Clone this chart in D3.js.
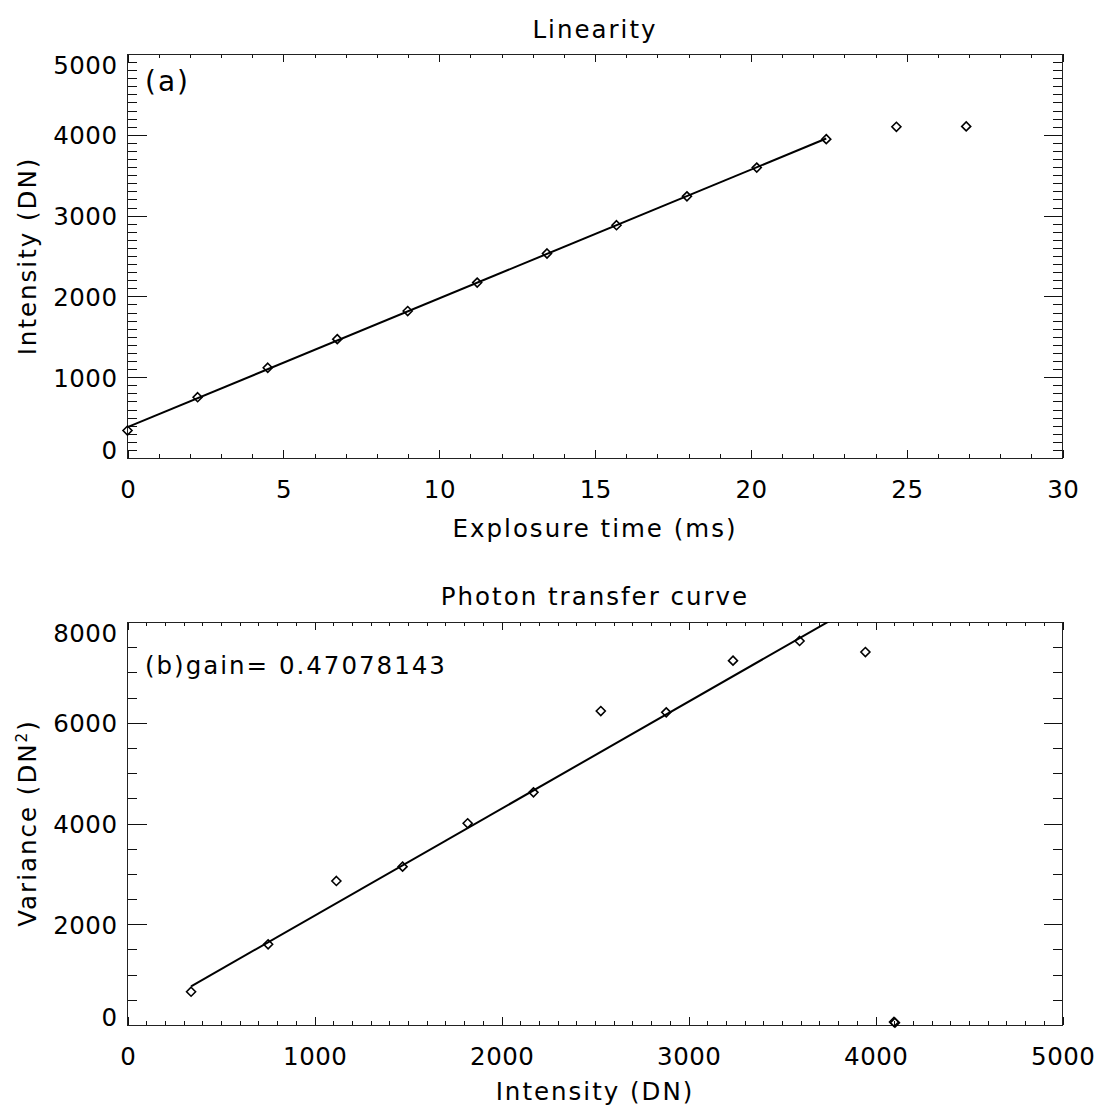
<!DOCTYPE html>
<html>
<head>
<meta charset="utf-8">
<script src="https://cdn.jsdelivr.net/npm/d3@7"></script>
<style>
  html, body { margin: 0; padding: 0; background: #fff; }
  svg text { font-family: "DejaVu Sans", sans-serif; fill: #000; }
</style>
</head>
<body>
<svg id="chart" width="1096" height="1107"></svg>
<script>
// Exposure series: exposure time (ms), mean intensity (DN), variance (DN^2)
const exposureMs  = [0, 2.25, 4.50, 6.73, 8.99, 11.22, 13.46, 15.69, 17.95, 20.19, 22.42, 24.67, 26.91];
const intensityDN = [340, 752, 1117, 1471, 1819, 2171, 2531, 2881, 3238, 3594, 3946, 4099, 4104];
const varianceDN2 = [661, 1602, 2859, 3143, 4004, 4619, 6233, 6207, 7232, 7623, 7404, 60, 45];

// Number of unsaturated points used in the fits
const fitCount = 11;
// Photon transfer fit: variance = ptcOffset + intensity / gain
const gain = 0.47078143;
const ptcOffset = 45;

// Axis ticks
const linXTicks = [0, 5, 10, 15, 20, 25, 30];
const linYTicks = [0, 1000, 2000, 3000, 4000, 5000];
const ptcXTicks = [0, 1000, 2000, 3000, 4000, 5000];
const ptcYTicks = [0, 2000, 4000, 6000, 8000];

const svg = d3.select("#chart");
const FONT = 24.5, LS = 2, TICK_LS = 0.5;

const panelLeft = 127.5, panelRight = 1062.5;

function diamondPath(s) {
  return `M0,${-s}L${s},0L0,${s}L${-s},0Z`;
}

function drawPanel(cfg) {
  const { top, bottom, xDomain, yDomain, xTicks, yTicks, xMinorStep, yMinorStep } = cfg;
  const x = d3.scaleLinear().domain(xDomain).range([panelLeft, panelRight]);
  const y = d3.scaleLinear().domain(yDomain).range([bottom, top]);
  const g = svg.append("g");
  const plotH = bottom - top, plotW = panelRight - panelLeft;
  const xMaj = Math.round(plotH * 0.02), xMin = xMaj / 2;
  const yMaj = Math.round(plotW * 0.02), yMin = yMaj / 2;

  const xMinor = d3.range(xDomain[0], xDomain[1] + 1e-9, xMinorStep).filter(v => !xTicks.includes(+v.toFixed(6)));
  const yMinor = d3.range(yDomain[0], yDomain[1] + 1e-9, yMinorStep).filter(v => !yTicks.includes(+v.toFixed(6)));

  const tickStyle = sel => {
    sel.select(".domain").remove();
    sel.selectAll(".tick line").attr("stroke", "#111").attr("stroke-width", 1).attr("shape-rendering", "crispEdges");
  };

  // bottom axis: major ticks with labels, then minor ticks
  const bx = g.append("g").attr("transform", `translate(0,${bottom})`)
    .call(d3.axisBottom(x).tickValues(xTicks).tickSize(-xMaj).tickPadding(0).tickFormat(d3.format("d")));
  tickStyle(bx);
  bx.selectAll(".tick text").attr("font-size", FONT).attr("letter-spacing", TICK_LS)
    .attr("y", 40).attr("dy", 0).attr("dx", TICK_LS / 2);
  g.append("g").attr("transform", `translate(0,${bottom})`)
    .call(d3.axisBottom(x).tickValues(xMinor).tickSize(-xMin).tickFormat("")).call(tickStyle);
  // top axis
  g.append("g").attr("transform", `translate(0,${top})`)
    .call(d3.axisTop(x).tickValues(xTicks).tickSize(-xMaj).tickFormat("")).call(tickStyle);
  g.append("g").attr("transform", `translate(0,${top})`)
    .call(d3.axisTop(x).tickValues(xMinor).tickSize(-xMin).tickFormat("")).call(tickStyle);

  // left axis; end labels are kept inside the axis span
  const ly = g.append("g").attr("transform", `translate(${panelLeft},0)`)
    .call(d3.axisLeft(y).tickValues(yTicks).tickSize(-yMaj).tickPadding(10).tickFormat(d3.format("d")));
  tickStyle(ly);
  ly.selectAll(".tick text").attr("font-size", FONT).attr("letter-spacing", TICK_LS)
    .attr("dy", "0.36em")
    .attr("y", d => {
      const py = y(d);
      const cy = Math.max(top + 11, Math.min(bottom - 8, py));
      return cy - py;
    });
  g.append("g").attr("transform", `translate(${panelLeft},0)`)
    .call(d3.axisLeft(y).tickValues(yMinor).tickSize(-yMin).tickFormat("")).call(tickStyle);
  // right axis
  g.append("g").attr("transform", `translate(${panelRight},0)`)
    .call(d3.axisRight(y).tickValues(yTicks).tickSize(-yMaj).tickFormat("")).call(tickStyle);
  g.append("g").attr("transform", `translate(${panelRight},0)`)
    .call(d3.axisRight(y).tickValues(yMinor).tickSize(-yMin).tickFormat("")).call(tickStyle);

  // frame
  g.append("rect").attr("x", panelLeft).attr("y", top)
    .attr("width", plotW).attr("height", plotH)
    .attr("fill", "none").attr("stroke", "#222").attr("stroke-width", 1)
    .attr("shape-rendering", "crispEdges");

  const clipId = "clip" + Math.round(top);
  svg.append("defs").append("clipPath").attr("id", clipId)
    .append("rect").attr("x", panelLeft).attr("y", top).attr("width", plotW).attr("height", plotH);

  return { g, x, y, clipId };
}

function title(text, cx, baseline, size) {
  svg.append("text").attr("x", cx).attr("y", baseline)
    .attr("text-anchor", "middle").attr("font-size", size || FONT)
    .attr("letter-spacing", LS).text(text);
}
function yTitle(parts, cx, cy) {
  const t = svg.append("text").attr("transform", `translate(${cx},${cy}) rotate(-90)`)
    .attr("text-anchor", "middle").attr("font-size", FONT).attr("letter-spacing", LS);
  parts.forEach(p => {
    const ts = t.append("tspan").text(p.text);
    if (p.sup) ts.attr("baseline-shift", "super").attr("font-size", FONT * 0.62);
  });
}

// ---------- (a) Linearity ----------
const A = drawPanel({
  top: 54, bottom: 458,
  xDomain: [0, 30], yDomain: [0, 5000],
  xTicks: linXTicks, yTicks: linYTicks,
  xMinorStep: 1, yMinorStep: 100
});

// least-squares line through the unsaturated points
const linPts = exposureMs.slice(0, fitCount).map((t, i) => [t, intensityDN[i]]);
const mx = d3.mean(linPts, d => d[0]), my = d3.mean(linPts, d => d[1]);
const slope = d3.sum(linPts, d => (d[0] - mx) * (d[1] - my)) / d3.sum(linPts, d => (d[0] - mx) ** 2);
const icpt = my - slope * mx;
const linFit = d3.extent(linPts, d => d[0]).map(t => [t, icpt + slope * t]);

A.g.append("path").datum(linFit)
  .attr("clip-path", `url(#${A.clipId})`)
  .attr("d", d3.line().x(d => A.x(d[0])).y(d => A.y(d[1])))
  .attr("fill", "none").attr("stroke", "#000").attr("stroke-width", 2);

A.g.selectAll("path.mk").data(exposureMs.map((t, i) => [t, intensityDN[i]]))
  .join("path").attr("class", "mk")
  .attr("transform", d => `translate(${A.x(d[0])},${A.y(d[1])})`)
  .attr("d", diamondPath(4.5))
  .attr("fill", "none").attr("stroke", "#000").attr("stroke-width", 1.6);

title("Linearity", 595, 38);
title("Explosure time (ms)", 595, 537);
yTitle([{ text: "Intensity (DN)" }], 36, 256);
svg.append("text").attr("x", 145).attr("y", 91).attr("font-size", 28)
  .attr("letter-spacing", LS).text("(a)");

// ---------- (b) Photon transfer curve ----------
const B = drawPanel({
  top: 622, bottom: 1025,
  xDomain: [0, 5000], yDomain: [0, 8000],
  xTicks: ptcXTicks, yTicks: ptcYTicks,
  xMinorStep: 100, yMinorStep: 500
});

const ptcRange = [intensityDN[0], intensityDN[fitCount - 1]];
const ptcFit = ptcRange.map(I => [I, ptcOffset + I / gain]);
B.g.append("path").datum(ptcFit)
  .attr("clip-path", `url(#${B.clipId})`)
  .attr("d", d3.line().x(d => B.x(d[0])).y(d => B.y(d[1])))
  .attr("fill", "none").attr("stroke", "#000").attr("stroke-width", 2);

B.g.selectAll("path.mk").data(intensityDN.map((I, i) => [I, varianceDN2[i]]))
  .join("path").attr("class", "mk")
  .attr("transform", d => `translate(${B.x(d[0])},${B.y(d[1])})`)
  .attr("d", diamondPath(4.5))
  .attr("fill", "none").attr("stroke", "#000").attr("stroke-width", 1.6);

title("Photon transfer curve", 595, 605);
title("Intensity (DN)", 595, 1100);
yTitle([{ text: "Variance (DN" }, { text: "2", sup: true }, { text: ")" }], 36, 823);
svg.append("text").attr("x", 145).attr("y", 674).attr("font-size", FONT)
  .attr("letter-spacing", LS).text("(b)gain= " + gain.toFixed(8));
</script>
</body>
</html>
